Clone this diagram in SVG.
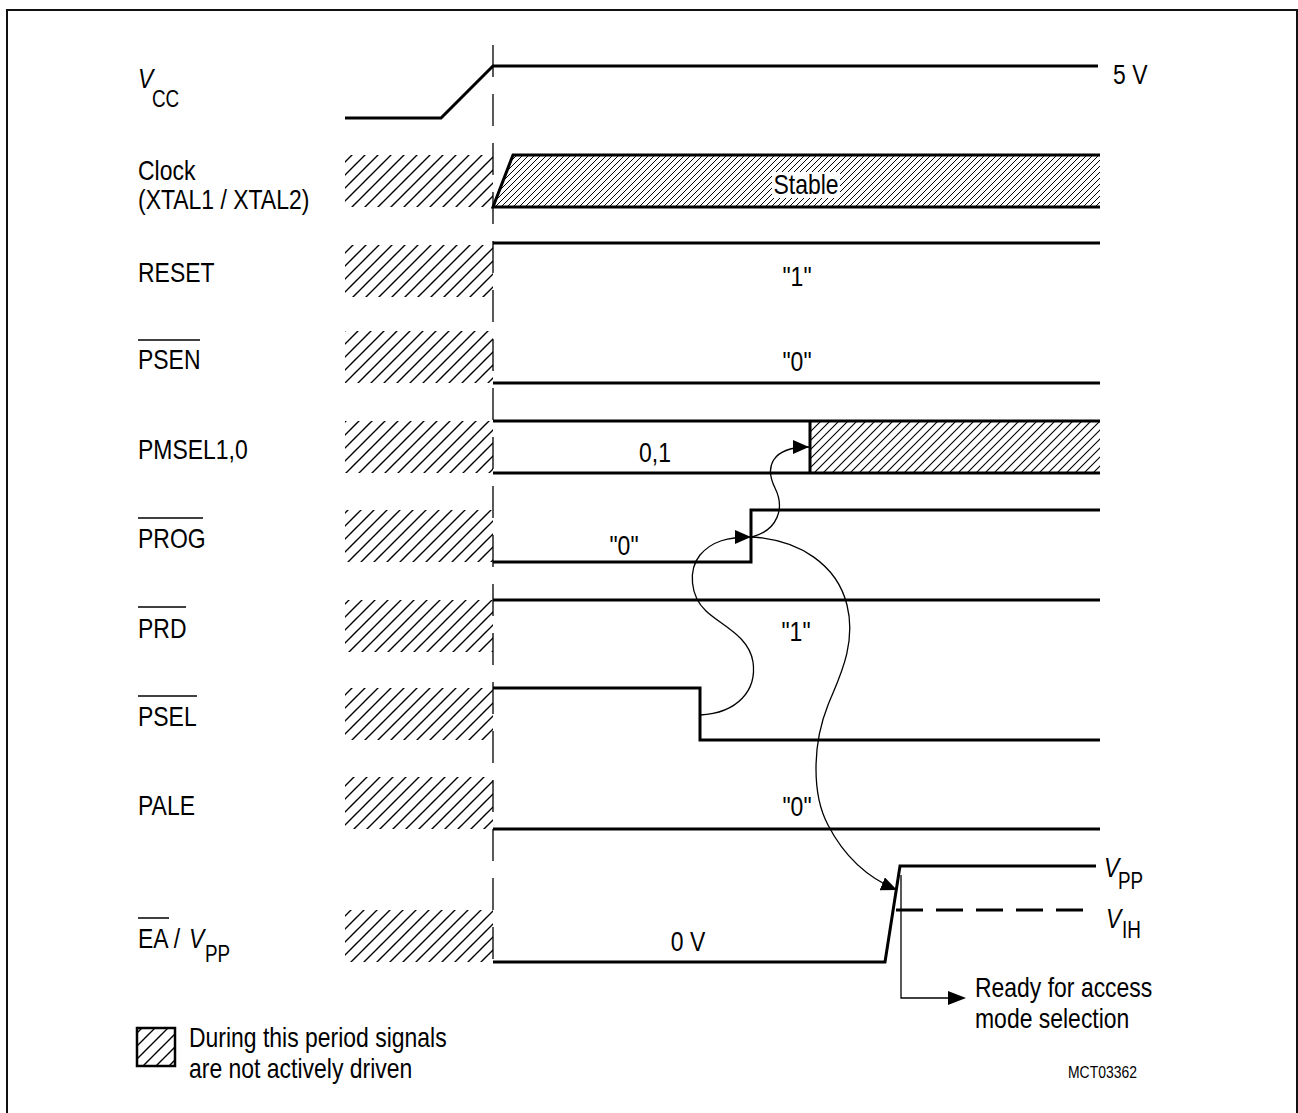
<svg xmlns="http://www.w3.org/2000/svg" width="1298" height="1113" viewBox="0 0 1298 1113">
<defs>
<pattern id="h13" width="13" height="13" patternUnits="userSpaceOnUse">
<path d="M-1,14 L14,-1 M-2,2 L2,-2 M11,15 L15,11" stroke="#000" stroke-width="1.4"/>
</pattern>
<pattern id="h6" width="6" height="6" patternUnits="userSpaceOnUse">
<path d="M-1,7 L7,-1 M-2,2 L2,-2 M4,8 L8,4" stroke="#000" stroke-width="1"/>
</pattern>
<pattern id="h9" width="9" height="9" patternUnits="userSpaceOnUse">
<path d="M-1,10 L10,-1 M-2,2 L2,-2 M7,11 L11,7" stroke="#000" stroke-width="1.1"/>
</pattern>
<marker id="arr" markerWidth="16" markerHeight="14" refX="16" refY="7" orient="auto" markerUnits="userSpaceOnUse">
<path d="M0,0 L16,7 L0,14 z" fill="#000"/>
</marker>
</defs>
<style>
text{font-family:"Liberation Sans",Arial,sans-serif;font-size:28px;fill:#000}
.sub{font-size:23px}
.it{font-style:italic}
.m{text-anchor:middle}
.sig{fill:none;stroke:#000;stroke-width:3}
.thin{fill:none;stroke:#000;stroke-width:1.3}
.ov{stroke:#000;stroke-width:1.5}
.hat{fill:url(#h13)}
.small{font-size:17px}
</style>
<rect x="0" y="0" width="1298" height="1113" fill="#fff"/>
<rect x="7" y="10" width="1290" height="1130" fill="none" stroke="#111" stroke-width="2"/>

<g id="axis">
<line x1="493" y1="45" x2="493" y2="968" stroke="#000" stroke-width="1.3" stroke-dasharray="32 17"/>
</g>

<g id="vcc">
<text transform="matrix(.82 0 0 1 138 88)" class="it">V</text>
<text transform="matrix(.82 0 0 1 152 107)" class="sub">CC</text>
<path class="sig" d="M345,118 L441,118 L493,66 L1098,66"/>
<text transform="matrix(.82 0 0 1 1113 84)">5 V</text>
</g>

<g id="clock">
<text transform="matrix(.82 0 0 1 138 180)">Clock</text>
<text transform="matrix(.82 0 0 1 138 209)">(XTAL1 / XTAL2)</text>
<rect class="hat" x="345" y="155" width="148" height="52"/>
<polygon points="493,207 513,155 1100,155 1100,207" fill="url(#h6)"/>
<path class="sig" d="M1100,155 L513,155 L493,207 L1100,207"/>
<rect x="772" y="172" width="68" height="26" fill="#fff"/>
<text transform="matrix(.82 0 0 1 806 194)" class="m">Stable</text>
</g>

<g id="reset">
<text transform="matrix(.82 0 0 1 138 282)">RESET</text>
<rect class="hat" x="345" y="245" width="148" height="52"/>
<path class="sig" d="M493,243 L1100,243"/>
<text transform="matrix(.82 0 0 1 797 286)" class="m">"1"</text>
</g>

<g id="psen">
<text transform="matrix(.82 0 0 1 138 369)">PSEN</text>
<line class="ov" x1="138" y1="340" x2="200" y2="340"/>
<rect class="hat" x="345" y="331" width="148" height="52"/>
<path class="sig" d="M493,383 L1100,383"/>
<text transform="matrix(.82 0 0 1 797 371)" class="m">"0"</text>
</g>

<g id="pmsel">
<text transform="matrix(.82 0 0 1 138 459)">PMSEL1,0</text>
<rect class="hat" x="345" y="421" width="148" height="52"/>
<rect x="810" y="421" width="290" height="52" fill="url(#h9)"/>
<path class="sig" d="M493,421 L1100,421 M493,473 L1100,473 M810,421 L810,473"/>
<text transform="matrix(.82 0 0 1 655 462)" class="m">0,1</text>
</g>

<g id="prog">
<text transform="matrix(.82 0 0 1 138 548)">PROG</text>
<line class="ov" x1="138" y1="518" x2="203" y2="518"/>
<rect class="hat" x="345" y="510" width="148" height="52"/>
<path class="sig" d="M493,562 L751,562 L751,510 L1100,510"/>
<text transform="matrix(.82 0 0 1 624 555)" class="m">"0"</text>
</g>

<g id="prd">
<text transform="matrix(.82 0 0 1 138 638)">PRD</text>
<line class="ov" x1="138" y1="607" x2="186" y2="607"/>
<rect class="hat" x="345" y="600" width="148" height="52"/>
<path class="sig" d="M493,600 L1100,600"/>
<text transform="matrix(.82 0 0 1 796 641)" class="m">"1"</text>
</g>

<g id="psel">
<text transform="matrix(.82 0 0 1 138 726)">PSEL</text>
<line class="ov" x1="138" y1="696" x2="197" y2="696"/>
<rect class="hat" x="345" y="688" width="148" height="52"/>
<path class="sig" d="M493,688 L700,688 L700,740 L1100,740"/>
</g>

<g id="pale">
<text transform="matrix(.82 0 0 1 138 815)">PALE</text>
<rect class="hat" x="345" y="777" width="148" height="52"/>
<path class="sig" d="M493,829 L1100,829"/>
<text transform="matrix(.82 0 0 1 797 816)" class="m">"0"</text>
</g>

<g id="ea">
<text transform="matrix(.82 0 0 1 138 948)">EA /</text>
<text transform="matrix(.82 0 0 1 189 948)" class="it">V</text>
<text transform="matrix(.82 0 0 1 205 962)" class="sub">PP</text>
<line class="ov" x1="138" y1="918" x2="169" y2="918"/>
<rect class="hat" x="345" y="910" width="148" height="52"/>
<path class="sig" d="M493,962 L885,962 L900,866 L1096,866"/>
<path d="M896,910 L1096,910" stroke="#000" stroke-width="3" stroke-dasharray="27 13"/>
<text transform="matrix(.82 0 0 1 688 951)" class="m">0 V</text>
<text transform="matrix(.82 0 0 1 1104 877)" class="it">V</text>
<text transform="matrix(.82 0 0 1 1118 889)" class="sub">PP</text>
<text transform="matrix(.82 0 0 1 1106 928)" class="it">V</text>
<text transform="matrix(.82 0 0 1 1122 938)" class="sub">IH</text>
</g>

<g id="ready">
<path class="thin" d="M901,875 L901,998 L950,998"/>
<path d="M948,991 L966,998 L948,1005 z" fill="#000"/>
<text transform="matrix(.82 0 0 1 975 997)">Ready for access</text>
<text transform="matrix(.82 0 0 1 975 1028)">mode selection</text>
</g>

<g id="connectors">
<path class="thin" marker-end="url(#arr)" d="M700,715 C738,713 757,690 753,662 C749,636 722,626 706,611 C690,596 688,570 700,555 C712,541 728,537 751,537"/>
<path class="thin" marker-end="url(#arr)" d="M752,537 C778,530 785,508 775,488 C765,468 770,447 809,447"/>
<path class="thin" marker-end="url(#arr)" d="M752,537 C800,540 837,565 847,605 C857,645 838,680 828,705 C812,745 812,795 828,825 C845,858 868,878 897,890"/>
</g>

<g id="legend">
<rect x="137" y="1028" width="38" height="38" fill="url(#h13)" stroke="#000" stroke-width="2.5"/>
<text transform="matrix(.82 0 0 1 189 1047)">During this period signals</text>
<text transform="matrix(.82 0 0 1 189 1078)">are not actively driven</text>
</g>
<text transform="matrix(.82 0 0 1 1068 1078)" class="small">MCT03362</text>
</svg>
